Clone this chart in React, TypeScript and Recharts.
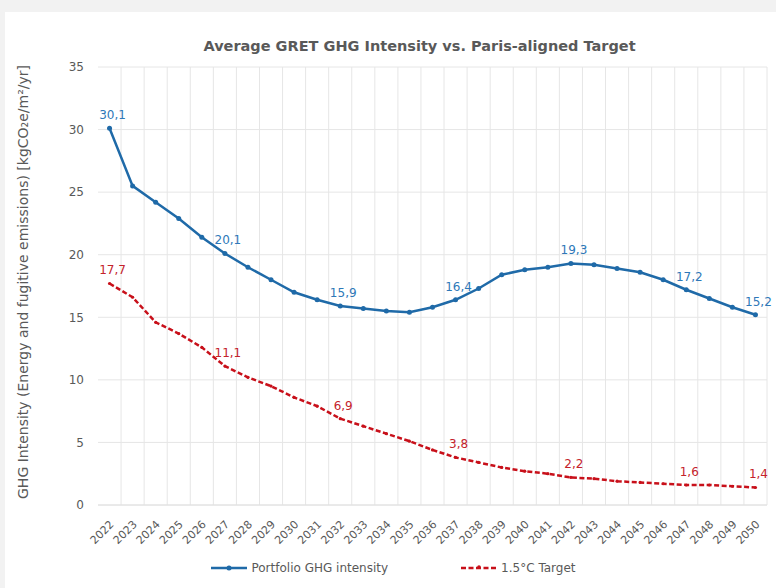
import React from "react";
import {
  LineChart,
  Line,
  XAxis,
  YAxis,
  CartesianGrid,
  LabelList,
  Legend,
} from "recharts";

const years = [
  2022, 2023, 2024, 2025, 2026, 2027, 2028, 2029, 2030, 2031, 2032, 2033, 2034, 2035, 2036,
  2037, 2038, 2039, 2040, 2041, 2042, 2043, 2044, 2045, 2046, 2047, 2048, 2049, 2050,
];

const portfolio = [
  30.1, 25.5, 24.2, 22.9, 21.4, 20.1, 19.0, 18.0, 17.0, 16.4, 15.9, 15.7, 15.5, 15.4, 15.8,
  16.4, 17.3, 18.4, 18.8, 19.0, 19.3, 19.2, 18.9, 18.6, 18.0, 17.2, 16.5, 15.8, 15.2,
];

const target = [
  17.7, 16.6, 14.6, 13.7, 12.6, 11.1, 10.2, 9.5, 8.6, 7.9, 6.9, 6.3, 5.7, 5.1, 4.4,
  3.8, 3.4, 3.0, 2.7, 2.5, 2.2, 2.1, 1.9, 1.8, 1.7, 1.6, 1.6, 1.5, 1.4,
];

const labelledYears = [2022, 2027, 2032, 2037, 2042, 2047, 2050];
const yTicks = [0, 5, 10, 15, 20, 25, 30, 35];

const BLUE = "#1f6aa8";
const BLUE_TEXT = "#2e78b8";
const RED = "#c8101a";
const RED_TEXT = "#c4222b";
const GREY = "#595959";
const FONT = "'DejaVu Sans', Verdana, sans-serif";

const data = years.map((year, i) => ({
  year,
  portfolio: portfolio[i],
  target: target[i],
}));

const fmt = (v: number) => v.toFixed(1).replace(".", ",");

function makeLabel(color: string) {
  return (props: any) => {
    const { x, y, value, index } = props;
    if (!labelledYears.includes(years[index])) return null;
    return (
      <text
        x={x + 3}
        y={y - 9}
        textAnchor="middle"
        fontSize={12}
        fontFamily={FONT}
        fill={color}
      >
        {fmt(value)}
      </text>
    );
  };
}

function YearTick(props: any) {
  const { x, y, payload } = props;
  return (
    <text
      x={x + 5}
      y={y + 12}
      transform={`rotate(-45 ${x + 5} ${y + 12})`}
      textAnchor="end"
      fontSize={11}
      fontFamily={FONT}
      fill={GREY}
    >
      {payload.value}
    </text>
  );
}

function YTitle(props: any) {
  const { viewBox } = props;
  const cx = viewBox.x - 22;
  const cy = viewBox.y + viewBox.height / 2 - 4;
  return (
    <text
      x={cx}
      y={cy}
      transform={`rotate(-90 ${cx} ${cy})`}
      textAnchor="middle"
      dominantBaseline="central"
      fontSize={14}
      fontFamily={FONT}
      fill={GREY}
    >
      GHG Intensity (Energy and fugitive emissions) [kgCO₂e/m²/yr]
    </text>
  );
}

function LegendBox() {
  return (
    <div
      style={{
        display: "flex",
        justifyContent: "center",
        gap: 72,
        fontFamily: FONT,
        fontSize: 12,
        color: GREY,
        marginLeft: -26,
        paddingTop: 11,
      }}
    >
      <span style={{ display: "flex", alignItems: "center" }}>
        <svg width={38} height={10} style={{ marginRight: 3 }}>
          <line x1={1} y1={5} x2={37} y2={5} stroke={BLUE} strokeWidth={2.5} />
          <circle cx={19} cy={5} r={2.5} fill={BLUE} />
        </svg>
        Portfolio GHG intensity
      </span>
      <span style={{ display: "flex", alignItems: "center" }}>
        <svg width={38} height={10} style={{ marginRight: 3 }}>
          <line
            x1={1}
            y1={5}
            x2={37}
            y2={5}
            stroke={RED}
            strokeWidth={2.5}
            strokeDasharray="5 2.5"
          />
          <circle cx={19} cy={4} r={1.8} fill={RED} />
        </svg>
        1.5°C Target
      </span>
    </div>
  );
}

export default function App() {
  return (
    <div
      style={{
        position: "fixed",
        left: 0,
        top: 0,
        width: 776,
        height: 588,
        background: "#f2f2f2",
        overflow: "hidden",
      }}
    >
      <div
        style={{
          position: "absolute",
          left: 5,
          top: 12,
          width: 771,
          height: 576,
          background: "#ffffff",
        }}
      >
        <div
          style={{
            position: "absolute",
            left: 0,
            top: 26,
            width: 771,
            paddingLeft: 58,
            boxSizing: "border-box",
            textAlign: "center",
            fontFamily: FONT,
            fontWeight: "bold",
            fontSize: 14.5,
            color: GREY,
          }}
        >
          Average GRET GHG Intensity vs. Paris-aligned Target
        </div>
        <LineChart
          width={771}
          height={576}
          data={data}
          margin={{ top: 55, right: 9, bottom: 0, left: 40 }}
        >
          <CartesianGrid
            stroke="#e6e6e6"
            verticalCoordinatesGenerator={({ offset }: any) =>
              years.map((_, i) => offset.left + ((i + 1) * offset.width) / years.length)
            }
          />
          <XAxis
            dataKey="year"
            scale="band"
            interval={0}
            tickLine={false}
            axisLine={{ stroke: "#e0e0e0" }}
            tick={<YearTick />}
            height={45}
          />
          <YAxis
            domain={[0, 35]}
            ticks={yTicks}
            width={53}
            tickLine={false}
            axisLine={false}
            tick={{ fontSize: 12, fill: GREY, fontFamily: FONT }}
            tickMargin={8}
            label={{ content: <YTitle /> } as any}
          />
          <Legend verticalAlign="bottom" height={38} content={<LegendBox />} />
          <Line
            dataKey="portfolio"
            stroke={BLUE}
            strokeWidth={2.5}
            dot={{ r: 2.5, fill: BLUE, stroke: BLUE, strokeWidth: 0 }}
            isAnimationActive={false}
          >
            <LabelList dataKey="portfolio" content={makeLabel(BLUE_TEXT)} />
          </Line>
          <Line
            dataKey="target"
            stroke={RED}
            strokeWidth={2.5}
            strokeDasharray="5 2.5"
            dot={{ r: 1.6, fill: RED, stroke: RED, strokeWidth: 0 }}
            isAnimationActive={false}
          >
            <LabelList dataKey="target" content={makeLabel(RED_TEXT)} />
          </Line>
        </LineChart>
      </div>
    </div>
  );
}
